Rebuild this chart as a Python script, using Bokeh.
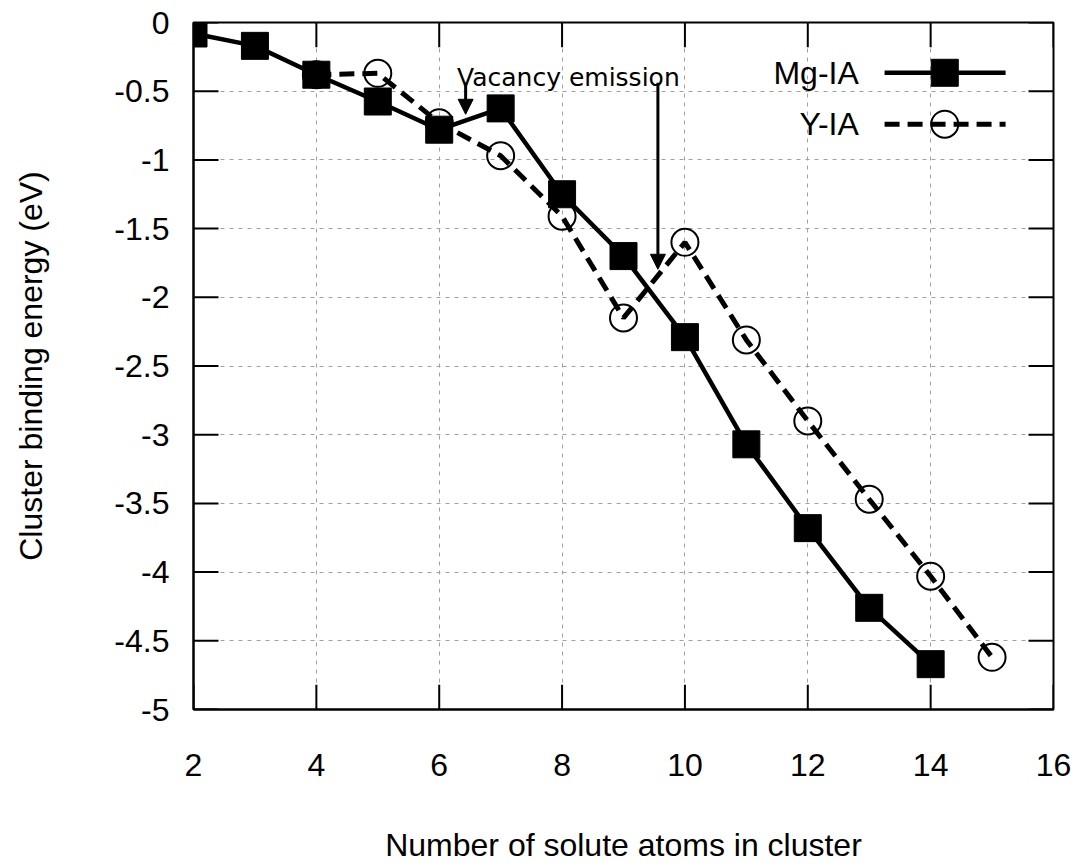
from bokeh.plotting import figure
from bokeh.models import FixedTicker, Arrow, NormalHead, Label
from bokeh.core.properties import value
from bokeh.embed import file_html
from bokeh.resources import INLINE

# ---- data ----
mg_n = [2, 3, 4, 5, 6, 7, 8, 9, 10, 11, 12, 13, 14]
mg_e = [-0.08, -0.17, -0.38, -0.575, -0.78, -0.625, -1.25, -1.70, -2.29, -3.07, -3.68, -4.26, -4.67]
y_n = [4, 5, 6, 7, 8, 9, 10, 11, 12, 13, 14, 15]
y_e = [-0.38, -0.37, -0.73, -0.97, -1.41, -2.15, -1.60, -2.31, -2.90, -3.47, -4.03, -4.62]

x_ticks = [2, 4, 6, 8, 10, 12, 14, 16]
y_ticks = [0.0, -0.5, -1.0, -1.5, -2.0, -2.5, -3.0, -3.5, -4.0, -4.5, -5.0]
y_tick_labels = ["0", "-0.5", "-1", "-1.5", "-2", "-2.5", "-3", "-3.5", "-4", "-4.5", "-5"]

series_names = ["Mg-IA", "Y-IA"]
annotation_text = "Vacancy emission"

X_MIN, X_MAX = 2.0, 16.0
Y_MIN, Y_MAX = -5.0, 0.0

W, H = 1086, 865
B_L, B_R, B_T, B_B = 193, 33, 22, 147
FRAME_W = W - B_L - B_R
FRAME_H = H - B_T - B_B

FONT = "Liberation Sans"
FS = "32px"

p = figure(width=W, height=H, x_range=(X_MIN, X_MAX), y_range=(Y_MIN, Y_MAX),
           output_backend="svg", toolbar_location=None,
           min_border_left=B_L, min_border_right=B_R, min_border_top=B_T, min_border_bottom=B_B,
           x_axis_label="Number of solute atoms in cluster",
           y_axis_label="Cluster binding energy (eV)")

p.outline_line_color = "black"
p.outline_line_width = 2
p.background_fill_color = "white"
p.border_fill_color = "white"

# grid
p.xgrid.ticker = FixedTicker(ticks=x_ticks)
p.ygrid.ticker = FixedTicker(ticks=y_ticks)
for g in (p.xgrid, p.ygrid):
    g.grid_line_color = "#a0a0a0"
    g.grid_line_dash = "4 5"
    g.grid_line_width = 1

xa = p.xaxis[0]
ya = p.yaxis[0]
for ax, ticks in ((xa, x_ticks), (ya, y_ticks)):
    ax.ticker = FixedTicker(ticks=ticks)
    ax.minor_tick_line_color = None
    ax.major_tick_in = 0
    ax.major_tick_out = 0
    ax.axis_line_width = 2
    ax.axis_line_color = "black"
    ax.major_label_text_font = FONT
    ax.major_label_text_font_size = FS
    ax.major_label_text_color = "black"
    ax.axis_label_text_font = FONT
    ax.axis_label_text_font_size = FS
    ax.axis_label_text_font_style = "normal"
    ax.axis_label_text_color = "black"
ya.major_label_overrides = {t: l for t, l in zip(y_ticks, y_tick_labels)}
xa.major_label_standoff = 44
ya.major_label_standoff = 24
xa.axis_label_standoff = 48
ya.axis_label_standoff = 62

# inward tick marks on all four sides (gnuplot style), as thin screen-sized rects
TICK_PX = 25
dx = TICK_PX * (X_MAX - X_MIN) / FRAME_W
dy = TICK_PX * (Y_MAX - Y_MIN) / FRAME_H
n_y = len(y_ticks)
n_x = len(x_ticks)
for xc in (X_MIN + dx / 2, X_MAX - dx / 2):
    p.rect(x=[xc] * n_y, y=y_ticks, width=TICK_PX, height=2, width_units="screen",
           height_units="screen", fill_color="black", line_color=None)
for yc in (Y_MIN + dy / 2, Y_MAX - dy / 2):
    p.rect(x=x_ticks, y=[yc] * n_x, width=2, height=TICK_PX, width_units="screen",
           height_units="screen", fill_color="black", line_color=None)

# series
p.line(y_n, y_e, line_color="black", line_width=5, line_dash="15 8")
p.scatter(y_n, y_e, marker="circle", size=27, fill_color=None, line_color="black", line_width=2)
p.line(mg_n, mg_e, line_color="black", line_width=4.5)
p.scatter(mg_n, mg_e, marker="square", size=27, fill_color="black", line_color="black")

# annotation
p.add_layout(Label(x=6.29, y=-0.402, text=annotation_text, text_font="DejaVu Sans",
                   text_font_size="25px", text_color="black", text_baseline="alphabetic"))
for ax_x, y0, y1 in [(6.43, -0.438, -0.668), (9.56, -0.438, -1.796)]:
    p.add_layout(Arrow(x_start=ax_x, y_start=y0, x_end=ax_x, y_end=y1, line_width=3,
                       line_color="black",
                       end=NormalHead(size=15, fill_color="black", line_color="black", line_width=1)))

# legend (gnuplot style: label left, sample right)
leg_text_x = 12.83
leg_line_x = [13.25, 15.22]
leg_mark_x = 14.23
leg_y = [-0.366, -0.74]
p.text(x=[leg_text_x, leg_text_x], y=leg_y, text=series_names, text_align="right",
       text_baseline="middle", text_font=value(FONT), text_font_size=FS, text_color="black")
p.line(leg_line_x, [leg_y[0], leg_y[0]], line_color="black", line_width=4.5)
p.scatter([leg_mark_x], [leg_y[0]], marker="square", size=27, fill_color="black", line_color="black")
p.line(leg_line_x, [leg_y[1], leg_y[1]], line_color="black", line_width=5, line_dash="15 8")
p.scatter([leg_mark_x], [leg_y[1]], marker="circle", size=27, fill_color=None, line_color="black", line_width=2)

open("out.html", "w").write(file_html(p, INLINE))
